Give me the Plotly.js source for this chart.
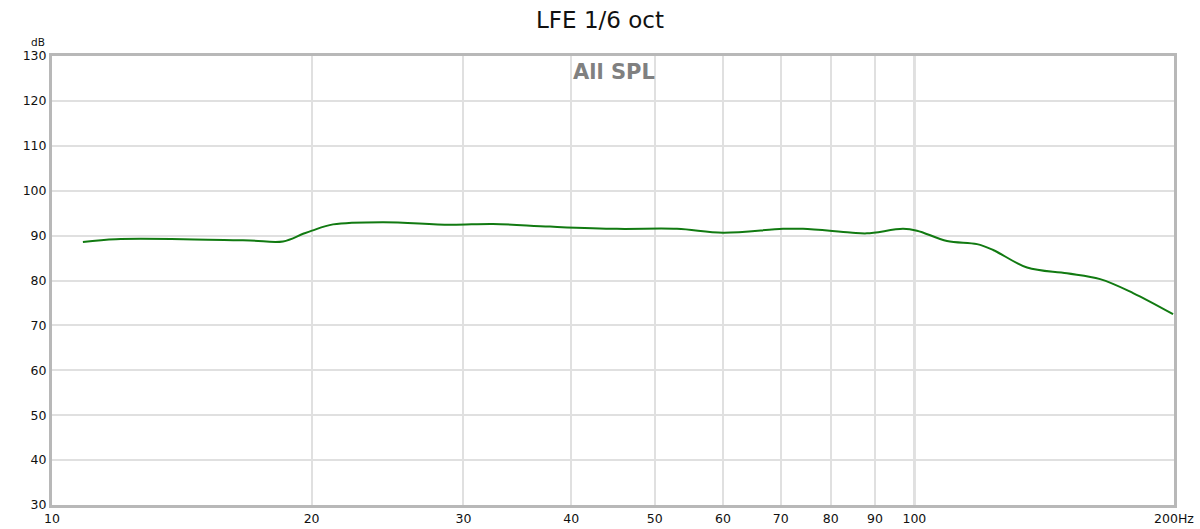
<!DOCTYPE html>
<html><head><meta charset="utf-8">
<script src="https://cdn.plot.ly/plotly-3.0.1.min.js"></script>
<style>html,body{margin:0;padding:0;background:#fff}#chart{width:1200px;height:529px}</style>
</head><body><div id="chart"></div>
<script>
const freqHz = [10.86, 11.86, 14.19, 16.97, 18.53, 19.55, 20.02, 21.18, 24.2, 28.94, 32.46, 37.8, 45.2, 53.05, 59.99, 70.41, 74.27, 84.21, 88.1, 97.0, 100.7, 109.1, 118.2, 123.4, 135.1, 150.3, 164.2, 179.3, 199.5];
const splDb = [88.6, 89.2, 89.2, 88.9, 88.7, 90.4, 91.1, 92.5, 93.0, 92.4, 92.6, 92.0, 91.5, 91.5, 90.65, 91.5, 91.5, 90.7, 90.5, 91.5, 91.1, 88.8, 88.1, 86.8, 82.9, 81.6, 80.3, 77.2, 72.5];
const xTickVals = [10, 20, 30, 40, 50, 60, 70, 80, 90, 100, 200];
const xTickText = ['10', '20', '30', '40', '50', '60', '70', '80', '90', '100', '200Hz'];
const yTickVals = [30, 40, 50, 60, 70, 80, 90, 100, 110, 120, 130];
const emphasisFreq = [100];
const titleText = 'LFE 1/6 oct';
const seriesLabel = 'All SPL';

const trace = {
  x: freqHz, y: splDb, type: 'scatter', mode: 'lines',
  line: {color: '#117a11', width: 2, shape: 'spline', smoothing: 1},
  hoverinfo: 'x+y'
};
const tf = {family: 'DejaVu Sans, Verdana, sans-serif', size: 12.5, color: '#111'};
const layout = {
  width: 1200, height: 529,
  margin: {l: 52, r: 26, t: 56, b: 24},
  paper_bgcolor: '#fff', plot_bgcolor: '#fff',
  showlegend: false,
  font: tf,
  title: {text: titleText, x: 0.5, xanchor: 'center', y: 0.962, yanchor: 'middle',
          font: {family: 'DejaVu Sans, sans-serif', size: 23, color: '#111'}},
  xaxis: {type: 'log', range: [Math.log10(10), Math.log10(200)],
          tickvals: xTickVals, ticktext: xTickText, ticks: '', showgrid: true,
          gridcolor: '#e0e0e0', gridwidth: 2, zeroline: false,
          showline: true, linecolor: '#b8b8b8', linewidth: 3, mirror: true,
          tickfont: tf, ticklabelstandoff: 0},
  yaxis: {range: [30, 130], tickvals: yTickVals, ticks: '', showgrid: true,
          gridcolor: '#e0e0e0', gridwidth: 2, zeroline: false,
          showline: true, linecolor: '#b8b8b8', linewidth: 3, mirror: true,
          tickfont: tf},
  shapes: emphasisFreq.map(f => ({type: 'line', xref: 'x', yref: 'paper', x0: f, x1: f, y0: 0, y1: 1,
          line: {color: '#b4b4b4', width: 2}, layer: 'below'})),
  annotations: [
    {text: seriesLabel, xref: 'paper', yref: 'paper', x: 0.501, y: 0.965, xanchor: 'center', yanchor: 'middle',
     showarrow: false, font: {family: 'DejaVu Sans, sans-serif', size: 21, color: '#808080', weight: 'bold'}},
    {text: 'dB', xref: 'paper', yref: 'paper', x: 0, y: 1, xshift: -5, yshift: 14, xanchor: 'right', yanchor: 'middle',
     showarrow: false, font: {family: 'DejaVu Sans, sans-serif', size: 10.5, color: '#111'}}
  ]
};
Plotly.newPlot('chart', [trace], layout, {displayModeBar: false, staticPlot: true});
</script></body></html>
